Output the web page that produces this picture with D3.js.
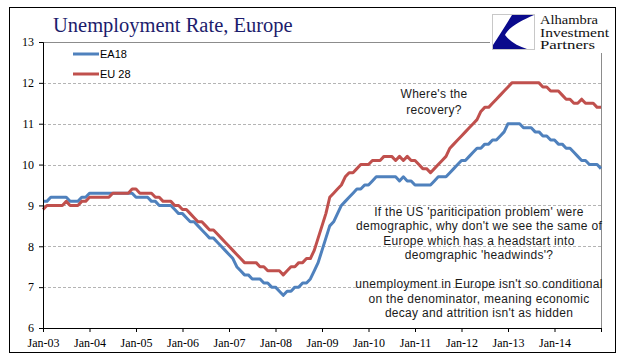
<!DOCTYPE html>
<html>
<head>
<meta charset="utf-8">
<script src="https://cdn.jsdelivr.net/npm/d3@7"></script>
<style>
  body { margin: 0; background: #fff; }
  svg { display: block; }
</style>
</head>
<body>
<div id="chart"></div>
<script>
// chart size
var w = 641;
var h = 361;

// monthly unemployment rate, Jan-03 .. Jan-15
var ea18 = [
  9.1, 9.1, 9.2, 9.2, 9.2, 9.2, 9.2, 9.1, 9.1, 9.1, 9.2, 9.2,
  9.3, 9.3, 9.3, 9.3, 9.3, 9.3, 9.3, 9.3, 9.3, 9.3, 9.3, 9.3,
  9.2, 9.2, 9.2, 9.2, 9.1, 9.1, 9.0, 9.0, 9.0, 9.0, 8.9, 8.8,
  8.8, 8.7, 8.6, 8.6, 8.5, 8.4, 8.3, 8.2, 8.2, 8.1, 8.0, 7.9,
  7.8, 7.7, 7.5, 7.4, 7.3, 7.3, 7.2, 7.2, 7.2, 7.1, 7.1, 7.0,
  7.0, 6.9, 6.8, 6.9, 6.9, 7.0, 7.0, 7.1, 7.1, 7.2, 7.4, 7.6,
  7.9, 8.2, 8.5, 8.6, 8.8, 9.0, 9.1, 9.2, 9.3, 9.4, 9.4, 9.5,
  9.5, 9.6, 9.7, 9.7, 9.7, 9.7, 9.7, 9.7, 9.6, 9.7, 9.6, 9.6,
  9.5, 9.5, 9.5, 9.5, 9.5, 9.6, 9.7, 9.7, 9.7, 9.8, 9.9, 10.0,
  10.1, 10.1, 10.2, 10.3, 10.4, 10.4, 10.5, 10.5, 10.6, 10.6, 10.7, 10.8,
  11.0, 11.0, 11.0, 11.0, 10.9, 10.9, 10.9, 10.8, 10.8, 10.7, 10.7, 10.6,
  10.6, 10.5, 10.5, 10.4, 10.4, 10.3, 10.2, 10.1, 10.1, 10.0, 10.0, 10.0,
  9.9
];

var eu28 = [
  8.9, 9.0, 9.0, 9.0, 9.0, 9.0, 9.1, 9.0, 9.0, 9.0, 9.1, 9.1,
  9.2, 9.2, 9.2, 9.2, 9.2, 9.2, 9.3, 9.3, 9.3, 9.3, 9.3, 9.4,
  9.4, 9.3, 9.3, 9.3, 9.3, 9.2, 9.2, 9.1, 9.1, 9.1, 9.0, 9.0,
  8.9, 8.9, 8.8, 8.7, 8.6, 8.6, 8.5, 8.4, 8.4, 8.3, 8.2, 8.1,
  8.0, 7.9, 7.8, 7.7, 7.6, 7.6, 7.6, 7.6, 7.5, 7.5, 7.4, 7.4,
  7.4, 7.4, 7.3, 7.4, 7.5, 7.5, 7.6, 7.6, 7.7, 7.7, 7.9, 8.2,
  8.5, 8.8, 9.2, 9.3, 9.4, 9.5, 9.7, 9.8, 9.8, 9.9, 10.0, 10.0,
  10.0, 10.1, 10.1, 10.1, 10.2, 10.2, 10.2, 10.1, 10.2, 10.1, 10.2, 10.1,
  10.1, 10.0, 9.9, 9.9, 9.8, 9.9, 10.0, 10.1, 10.2, 10.4, 10.5, 10.6,
  10.7, 10.8, 10.9, 11.0, 11.1, 11.3, 11.4, 11.4, 11.5, 11.6, 11.7, 11.8,
  11.9, 12.0, 12.0, 12.0, 12.0, 12.0, 12.0, 12.0, 12.0, 11.9, 11.9, 11.8,
  11.8, 11.8, 11.7, 11.6, 11.6, 11.5, 11.5, 11.6, 11.5, 11.5, 11.5, 11.4,
  11.4
];

var xLabels = ["Jan-03", "Jan-04", "Jan-05", "Jan-06", "Jan-07", "Jan-08",
               "Jan-09", "Jan-10", "Jan-11", "Jan-12", "Jan-13", "Jan-14", ""];
var yTicks = [6, 7, 8, 9, 10, 11, 12, 13];
var seriesNames = ["EA18", "EU 28"];
var seriesColors = ["#4f81bd", "#c0504d"];

var note1 = ["Where's the", "recovery?"];
var note2 = ["If the US 'pariticipation problem' were",
             "demographic, why don't we see the same of",
             "Europe which has a headstart into",
             "deomgraphic 'headwinds'?",
             "",
             "unemployment in Europe isn't so conditional",
             "on the denominator, meaning economic",
             "decay and attrition isn't as hidden"];

var svg = d3.select("#chart")
  .append("svg")
  .attr("width", w)
  .attr("height", h);

svg.append("rect")
  .attr("width", w).attr("height", h)
  .attr("fill", "#fff");

// outer frame
svg.append("rect")
  .attr("x", 9.5).attr("y", 7.5)
  .attr("width", 606).attr("height", 345)
  .attr("fill", "none")
  .attr("stroke", "#000");

// scales
var xScale = d3.scaleLinear()
  .domain([0, 144])
  .range([43, 601]);

var yScale = d3.scaleLinear()
  .domain([6, 13])
  .range([328, 42]);

// gridlines
svg.append("g")
  .selectAll("line")
  .data(yTicks.filter(d => d > 6 && d < 13))
  .enter().append("line")
  .attr("x1", 43).attr("x2", 601)
  .attr("y1", d => Math.round(yScale(d)) + 0.5)
  .attr("y2", d => Math.round(yScale(d)) + 0.5)
  .attr("stroke", "#b4b4b4")
  .attr("stroke-dasharray", "3,2");

// plot area border (top and right)
svg.append("path")
  .attr("d", "M43," + (yScale(13) + 0.5) + "H601.5V" + yScale(6))
  .attr("fill", "none")
  .attr("stroke", "#8c8c8c");

// annotations
function notes(lines, cx, y0, step) {
  svg.append("g")
    .selectAll("text")
    .data(lines)
    .enter().append("text")
    .attr("x", cx)
    .attr("y", (d, i) => y0 + i * step)
    .attr("text-anchor", "middle")
    .attr("fill", "#1a1a1a")
    .style("font-family", "'Liberation Sans', sans-serif")
    .style("font-size", "12px")
    .style("letter-spacing", "0.3px")
    .text(d => d);
}
notes(note1, 434, 98, 15.5);
notes(note2, 479, 215.5, 14.5);

// lines
var line = d3.line()
  .x((d, i) => xScale(i))
  .y(d => yScale(d));

[ea18, eu28].forEach(function(s, k) {
  svg.append("path")
    .datum(s)
    .attr("d", line)
    .attr("fill", "none")
    .attr("stroke", seriesColors[k])
    .attr("stroke-width", 3)
    .attr("stroke-linejoin", "round");
});

// axes
var xAxis = d3.axisBottom(xScale)
  .tickValues(d3.range(0, 145, 12))
  .tickFormat((d, i) => xLabels[i])
  .tickSizeOuter(0)
  .tickSize(4);

var yAxis = d3.axisLeft(yScale)
  .tickValues(yTicks)
  .tickFormat(d3.format("d"))
  .tickSizeOuter(0)
  .tickSize(4);

var gx = svg.append("g")
  .attr("transform", "translate(0," + yScale(6) + ")")
  .call(xAxis);

var gy = svg.append("g")
  .attr("transform", "translate(43,0)")
  .call(yAxis);

[gx, gy].forEach(function(g) {
  g.attr("font-family", "Liberation Serif").attr("font-size", 12);
  g.select(".domain").attr("stroke", "#000");
  g.selectAll(".tick line").attr("stroke", "#000");
  g.selectAll("text").attr("fill", "#000");
});
gx.selectAll("text").attr("dy", "0.71em").attr("y", 10);
gy.selectAll("text").attr("x", -9);

// title
svg.append("text")
  .attr("x", 53).attr("y", 32)
  .attr("fill", "#1c1c6c")
  .style("font-family", "'Liberation Serif', serif")
  .style("font-size", "20.5px")
  .text("Unemployment Rate, Europe");

// legend
var legend = svg.append("g");
seriesNames.forEach(function(name, k) {
  var ly = 54 + k * 20;
  legend.append("line")
    .attr("x1", 73).attr("x2", 99)
    .attr("y1", ly).attr("y2", ly)
    .attr("stroke", seriesColors[k])
    .attr("stroke-width", 3);
  legend.append("text")
    .attr("x", 100).attr("y", ly + 4)
    .attr("fill", "#000")
    .style("font-family", "'Liberation Sans', sans-serif")
    .style("font-size", "11px")
    .text(name);
});

// logo
var logo = svg.append("g");
logo.append("rect")
  .attr("x", 490).attr("y", 12)
  .attr("width", 120).attr("height", 41)
  .attr("fill", "#fff");
logo.append("rect")
  .attr("x", 492.5).attr("y", 14.5)
  .attr("width", 42).attr("height", 35)
  .attr("fill", "#fff")
  .attr("stroke", "#c8c8c8");
logo.append("path")
  .attr("d", "M512,15 L534,15 C520,21 508,28 505,35 C510,42 518,46 527,49 L493,49 L493,45 C499,36 505,26 512,15 Z")
  .attr("fill", "#0a0a8c");
var logoText = ["Alhambra", "Investment", "Partners"];
var logoWidths = [58, 69, 55];
logoText.forEach(function(t, i) {
  logo.append("text")
    .attr("x", 540).attr("y", 24 + i * 12.5)
    .attr("fill", "#111")
    .attr("textLength", logoWidths[i])
    .attr("lengthAdjust", "spacingAndGlyphs")
    .style("font-family", "'Liberation Serif', serif")
    .style("font-size", "12px")
    .text(t);
});
</script>
</body>
</html>
